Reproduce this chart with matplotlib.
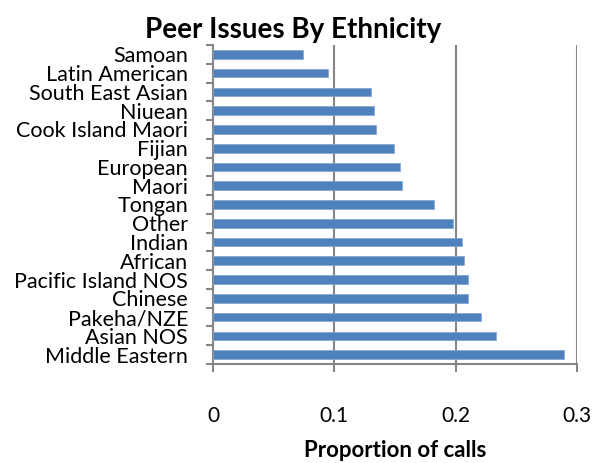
import matplotlib
matplotlib.use("Agg")
import matplotlib.pyplot as plt
import numpy as np

# data (top to bottom)
ethnicities = ["Samoan", "Latin American", "South East Asian", "Niuean",
               "Cook Island Maori", "Fijian", "European", "Maori", "Tongan",
               "Other", "Indian", "African", "Pacific Island NOS", "Chinese",
               "Pakeha/NZE", "Asian NOS", "Middle Eastern"]
proportions = [0.074, 0.095, 0.130, 0.133, 0.134, 0.149, 0.154, 0.156, 0.182,
               0.198, 0.205, 0.207, 0.210, 0.210, 0.221, 0.233, 0.289]
x_ticks = [0, 0.1, 0.2, 0.3]
x_tick_labels = ["0", "0.1", "0.2", "0.3"]

plt.rcParams['font.family'] = ['Lato', 'DejaVu Sans']

fig = plt.figure(figsize=(6.08, 4.63), dpi=100)
ax = fig.add_axes([213/608, 1-364/463, (577-213)/608, (364-45)/463])

pos = np.arange(len(ethnicities))
ax.barh(pos, proportions, height=0.46, color="#4F81BD", edgecolor="#7FA3D0", linewidth=0.5, zorder=3)

ax.set_ylim(len(ethnicities)-0.5, -0.5)
ax.set_xlim(0, 0.3)

# category labels, tick marks between categories
ax.set_yticks(pos)
ax.set_yticklabels(ethnicities, fontsize=15.5)
ax.set_yticks(np.arange(-0.5, len(ethnicities)), minor=True)
ax.tick_params(axis='y', which='major', length=0, pad=18)
ax.tick_params(axis='y', which='minor', length=5, width=1.5, color="#868686", direction='out')

ax.set_xticks(x_ticks)
ax.set_xticklabels(x_tick_labels, fontsize=15)
ax.tick_params(axis='x', which='major', length=6, width=1.5, color="#868686", direction='out', pad=24)

ax.grid(axis='x', color="#868686", linewidth=1.5, zorder=0)
for s in ['top', 'right']:
    ax.spines[s].set_visible(False)
for s in ['left', 'bottom']:
    ax.spines[s].set_color("#868686")
    ax.spines[s].set_linewidth(1.5)

ax.set_title("Peer Issues By Ethnicity", fontsize=20, fontweight='bold', pad=5, x=(293-213)/364)
ax.set_xlabel("Proportion of calls", fontsize=16, fontweight='bold', labelpad=10)

fig.savefig("out.png", dpi=100)
